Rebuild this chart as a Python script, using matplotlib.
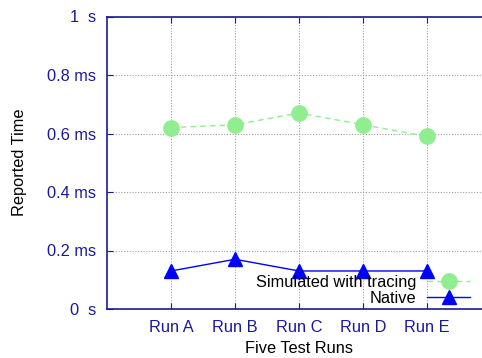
import matplotlib
matplotlib.use("Agg")
import matplotlib.pyplot as plt

runs = ["Run A", "Run B", "Run C", "Run D", "Run E"]
simulated = [0.62, 0.63, 0.67, 0.63, 0.59]
native = [0.13, 0.17, 0.13, 0.13, 0.13]
yticks = [0, 0.2, 0.4, 0.6, 0.8, 1.0]
ytick_labels = ["0  s", "0.2 ms", "0.4 ms", "0.6 ms", "0.8 ms", "1  s"]

plt.rcParams['font.family'] = ['Liberation Sans', 'DejaVu Sans']
W, H = 482, 358
fig = plt.figure(figsize=(W / 100, H / 100), dpi=100)
axc = '#1a1a96'
left, right, bottom, top = 107, 491, 309, 16.5
ax = fig.add_axes([left / W, (H - bottom) / H, (right - left) / W, (bottom - top) / H])

x = list(range(1, len(runs) + 1))
ax.plot(x, simulated, color='#90ee90', linestyle=(0, (4, 3)), linewidth=1.0,
        marker='o', markersize=11, label='Simulated with tracing', zorder=3)
ax.plot(x, native, color='#0000ff', linestyle='-', linewidth=1.0,
        marker='^', markersize=10, label='Native', zorder=3)

ax.set_xlim(0, 6)
ax.set_ylim(0, 1)
ax.set_xticks(x)
ax.set_xticklabels(runs)
ax.set_yticks(yticks)
ax.set_yticklabels(ytick_labels)
ax.grid(True, color='#a0a0a0', linestyle=(0, (1, 1.5)), linewidth=0.8)
ax.tick_params(direction='in', length=4, color=axc, labelcolor=axc,
               labelsize=11.8, top=True, right=True, pad=8)
for s in ax.spines.values():
    s.set_color(axc)
    s.set_linewidth(1.2)

ax.set_xlabel("Five Test Runs", fontsize=11.8, labelpad=4.5)
ax.set_ylabel("Reported Time", fontsize=11.8, labelpad=14)

leg = fig.legend(loc='lower right', bbox_to_anchor=(470 / W, (H - 306) / H),
                 frameon=False, markerfirst=False, fontsize=11.8,
                 handlelength=2.6, handletextpad=0.7, labelspacing=0.05,
                 borderpad=0, borderaxespad=0)

fig.savefig("out.png", dpi=100)
